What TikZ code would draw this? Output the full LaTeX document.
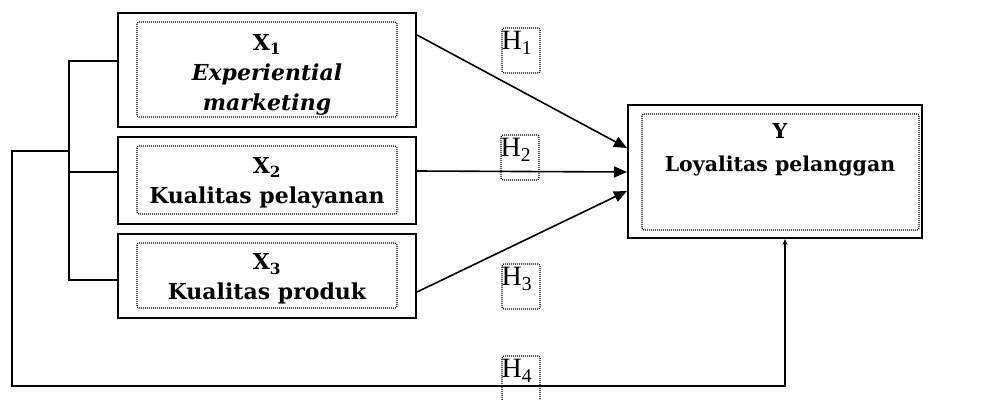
\documentclass[tikz,border=0pt]{standalone}
\usepackage{fontspec}
\setmainfont{DejaVu Serif}
\newfontfamily\hfont{Liberation Serif}
\usetikzlibrary{positioning}
\usetikzlibrary{calc}
\usetikzlibrary{arrows.meta}
\tikzset{
	every node/.style = {font=\fontsize{22}{30}\selectfont},
	varbox/.style = {draw, line width=2pt, minimum width=298pt, inner sep=0pt},
	dotbox/.style = {draw, dash pattern=on 1pt off 1pt, line width=1.2pt, rounded corners=2pt},
	lbl/.style = {align=center, font=\fontsize{22}{30}\selectfont\bfseries},
	hbox/.style = {draw, dash pattern=on 1pt off 1pt, line width=1.2pt, minimum width=38pt, minimum height=45pt, rounded corners=2pt},
	hlbl/.style = {anchor=north west, inner sep=0pt, font=\fontsize{28}{30}\selectfont\hfont},
	link/.style = {line width=1.6pt},
	arr/.style = {-{Triangle[length=13pt,width=11pt]}, line width=1.6pt}
}

\begin{document}
\begin{tikzpicture}[x=1pt, y=-1pt]
		\useasboundingbox (0,0) rectangle (990,399);
		% variable boxes
		\node[varbox, minimum height=114pt] (x1) at (267,70) {};
		\node[varbox, minimum height=87pt] (x2) at (267,180.5) {};
		\node[varbox, minimum height=84pt] (x3) at (267,276) {};
		\node[varbox, minimum width=294pt, minimum height=133pt] (y) at (775,171.5) {};
		% dotted frames
		\foreach \n in {x1,x2,x3}
			\draw[dotbox] ($(\n.north west)+(20,10)$) rectangle ($(\n.south east)+(-20,-11)$);
		\draw[dotbox] ($(y.north west)+(15,10)$) rectangle ($(y.south east)+(-4,-9)$);
		
		\node[lbl] (x1t) at ($(x1)+(0,5)$) {X\textsubscript{1}\\{\itshape Experiential}\\{\itshape marketing}};
		\node[lbl] (x2t) at ($(x2)+(0,2.5)$) {X\textsubscript{2}\\Kualitas pelayanan};
		\node[lbl] (x3t) at ($(x3)+(0,3)$) {X\textsubscript{3}\\Kualitas produk};
		\node[lbl, font=\fontsize{20.5}{33}\selectfont\bfseries] (yt) at (780,150) {Y\\Loyalitas pelanggan};
		
		% hypotheses
		\node[hbox] (h1) at (521,50.5) {};
		\node[hbox] (h2) at (520,157.5) {};
		\node[hbox] (h3) at (521,286.5) {};
		\node[hbox] (h4) at (521,378.5) {};
		\foreach \i in {1,...,4}
			\node[hlbl] (h\i t) at ($(h\i.north west)+(0,4)$) {H\textsubscript{\i}};
		
		% arrows to Y
		\draw[arr] ($(x1.north east)+(0,23)$) -- ($(y.west)+(0,-23.5)$);
		\draw[arr] ($(x2.east)+(0,-9.5)$) -- ($(y.west)+(0,0.5)$);
		\draw[arr] ($(x3.east)+(0,16)$) -- ($(y.west)+(0,19.5)$);
		
		% bracket
		\coordinate (bk) at (70,151);
		\coordinate (lp) at (12,386);
		\draw[link] ($(x1.west)+(0,-9)$) -| ($(x3.west)+(-48,4)$) -- ($(x3.west)+(0,4)$);
		\draw[link] ($(x2.west)+(0,-8.5)$) -- ($(x2.west)+(-48,-8.5)$);
		\draw[link, -{Stealth[length=6pt,width=5pt]}] (bk) -| (lp) -| ($(y.south)+(10,0)$);
	\end{tikzpicture}
\end{document}
